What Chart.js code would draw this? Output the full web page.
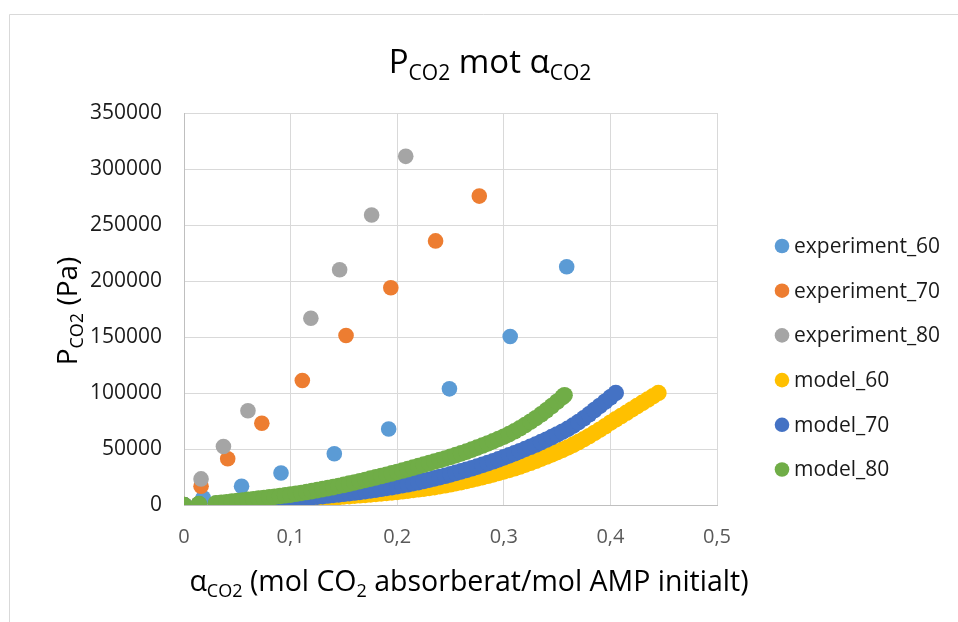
<!DOCTYPE html>
<html><head><meta charset="utf-8">
<script src="https://cdn.jsdelivr.net/npm/chart.js@4.4.1/dist/chart.umd.min.js"></script>
<style>
html,body{margin:0;padding:0;background:#fff;}
#wrap{position:relative;width:958px;height:622px;}
</style></head><body>
<div id="wrap"><canvas id="ch" width="958" height="622"></canvas></div>
<script>
// ── DATA ──
const xTickLabels=['0','0,1','0,2','0,3','0,4','0,5'];
const yTickLabels=['0','50000','100000','150000','200000','250000','300000','350000'];
const seriesNames=['experiment_60','experiment_70','experiment_80','model_60','model_70','model_80'];

const exp60A=[0.018,0.054,0.091,0.141,0.192,0.249,0.306,0.359];
const exp60P=[6500,16700,28600,45700,67900,103700,150500,212700];
const exp70A=[0.016,0.041,0.073,0.111,0.152,0.194,0.236,0.277];
const exp70P=[16700,41300,73000,111200,151400,194000,235800,275800];
const exp80A=[0.016,0.037,0.060,0.086,0.119,0.146,0.176,0.208];
const exp80P=[23300,52200,84200,0,166800,210000,258900,311300];

const mod60A=[0,0.014,0.030,0.035,0.040,0.045,0.050,0.055,0.060,0.065,0.070,0.075,0.080,0.085,0.090,0.095,0.100,
  0.105,0.110,0.115,0.120,0.125,0.130,0.135,0.140,0.145,0.150,0.155,0.160,0.165,0.170,0.175,0.180,0.185,0.190,0.195,0.200,
  0.205,0.210,0.215,0.220,0.225,0.230,0.235,0.240,0.245,0.250,0.255,0.260,0.265,0.270,0.275,0.280,0.285,0.290,0.295,0.300,
  0.305,0.310,0.315,0.320,0.325,0.330,0.335,0.340,0.345,0.350,0.355,0.360,0.365,0.370,0.375,0.380,0.385,0.390,0.395,0.400,
  0.405,0.410,0.415,0.420,0.425,0.430,0.435,0.440,0.445];
const mod60P=[0,500,900,1100,1350,1600,1850,2100,2350,2600,2850,3100,3350,3650,3950,4250,4550,
  4850,5150,5450,5750,6050,6350,6650,6950,7250,7600,7950,8300,8650,9050,9450,9850,10300,10750,11200,11700,
  12250,12800,13400,14000,14650,15300,16000,16750,17600,18500,19450,20450,21500,22600,23750,24900,26100,27350,28650,30000,
  31350,32800,34350,36000,37700,39500,41350,43250,45200,47200,49250,51350,53650,56100,58700,61450,64300,67250,70300,73500,
  76450,79400,82350,85300,88250,91200,94150,97100,100000];

const mod70A=[0,0.014,0.030,0.035,0.040,0.045,0.050,0.055,0.060,0.065,0.070,0.075,0.080,0.085,0.090,0.095,0.100,
  0.105,0.110,0.115,0.120,0.125,0.130,0.135,0.140,0.145,0.150,0.155,0.160,0.165,0.170,0.175,0.180,0.185,0.190,0.195,0.200,
  0.205,0.210,0.215,0.220,0.225,0.230,0.235,0.240,0.245,0.250,0.255,0.260,0.265,0.270,0.275,0.280,0.285,0.290,0.295,0.300,
  0.305,0.310,0.315,0.320,0.325,0.330,0.335,0.340,0.345,0.350,0.355,0.360,0.365,0.370,0.375,0.380,0.385,0.390,0.395,0.400,0.405];
const mod70P=[0,600,1000,1250,1500,1800,2100,2400,2700,3000,3300,3600,3950,4300,4650,5000,5400,
  5800,6200,6600,7050,7500,7950,8450,8950,9450,10000,10550,11150,11750,12400,13050,13750,14450,15200,16000,16800,
  17650,18500,19450,20450,21500,22600,23750,24900,26100,27350,28650,30000,31350,32750,34250,35800,37400,39050,40750,42500,
  44300,46150,48050,50000,52000,54000,56100,58300,60600,63000,65450,68000,70850,74000,77400,81000,84700,88450,92250,96100,100000];

const mod80A=[0,0.014,0.030,0.035,0.040,0.045,0.050,0.055,0.060,0.065,0.070,0.075,0.080,0.085,0.090,0.095,0.100,
  0.105,0.110,0.115,0.120,0.125,0.130,0.135,0.140,0.145,0.150,0.155,0.160,0.165,0.170,0.175,0.180,0.185,0.190,0.195,0.200,
  0.205,0.210,0.215,0.220,0.225,0.230,0.235,0.240,0.245,0.250,0.255,0.260,0.265,0.270,0.275,0.280,0.285,0.290,0.295,0.300,
  0.305,0.310,0.315,0.320,0.325,0.330,0.335,0.340,0.345,0.350,0.355,0.357];
const mod80P=[0,800,1500,2000,2500,3000,3500,4000,4550,5100,5650,6200,6800,7400,8000,8650,9300,
  10000,10750,11550,12380,13240,14130,15050,16000,16980,18000,19050,20130,21240,22380,23530,24690,25860,27050,28260,29500,
  30760,32050,33360,34690,36040,37400,38780,40170,41580,43000,44500,46060,47700,49420,51210,53060,54960,56920,58940,61000,
  63300,65800,68500,71350,74350,77500,80900,84500,88300,92200,96300,98000];

// ── STYLE ──
const FONT="'Open Sans', sans-serif";
const COLORS=['#5B9BD5','#ED7D31','#A5A5A5','#FFC000','#4472C4','#70AD47'];
const gridColor='#D9D9D9';

const titleParts=[['P',0],['CO2',1],[' mot α',0],['CO2',1]];
const yTitleParts=[['P',0],['CO2',1],[' (Pa)',0]];
const xTitleParts=[['α',0],['CO2',1],[' (mol CO',0],['2',1],[' absorberat/mol AMP initialt)',0]];

const pts=(a,p)=>a.map((x,i)=>({x,y:p[i]}));
const sets=[[exp60A,exp60P],[exp70A,exp70P],[exp80A,exp80P],[mod60A,mod60P],[mod70A,mod70P],[mod80A,mod80P]];
const drawOrder=[5,4,3,2,1,0];

// rich text with subscripts
function rich(ctx,parts,size,x,y,rot){
  const sub=Math.round(size*0.64);
  let w=0;
  parts.forEach(([t,s])=>{ ctx.font=(s?sub:size)+'px '+FONT; w+=ctx.measureText(t).width; });
  ctx.save(); ctx.translate(x,y); if(rot) ctx.rotate(rot);
  ctx.textBaseline='alphabetic'; ctx.textAlign='left'; ctx.fillStyle='#000';
  let cx=-w/2;
  parts.forEach(([t,s])=>{
    ctx.font=(s?sub:size)+'px '+FONT;
    ctx.fillText(t,cx,s?size*0.2:0);
    cx+=ctx.measureText(t).width;
  });
  ctx.restore();
}

const deco={
  id:'deco',
  beforeDraw(c){
    const ctx=c.ctx;
    ctx.save(); ctx.fillStyle='#fff'; ctx.fillRect(0,0,c.width,c.height);
    ctx.strokeStyle=gridColor; ctx.lineWidth=1;
    ctx.beginPath(); ctx.moveTo(9.5,c.height); ctx.lineTo(9.5,14.5); ctx.lineTo(c.width,14.5); ctx.stroke();
    ctx.restore();
  },
  afterDraw(c){
    const ctx=c.ctx;
    rich(ctx,titleParts,33,490,73,0);
    rich(ctx,yTitleParts,28,77,311,-Math.PI/2);
    rich(ctx,xTitleParts,28.5,469,591,0);
    // legend
    ctx.save();
    c.data.datasets.forEach((d,i)=>{
      const cy=246+i*44.7;
      ctx.fillStyle=d.backgroundColor;
      ctx.beginPath(); ctx.arc(782,cy,7.3,0,Math.PI*2); ctx.fill();
      ctx.fillStyle='#1a1a1a'; ctx.font='21px '+FONT; ctx.textBaseline='middle'; ctx.textAlign='left';
      ctx.fillText(d.label,794,cy+1);
    });
    ctx.restore();
  }
};

new Chart(document.getElementById('ch'),{
  type:'scatter',
  data:{ datasets:sets.map((s,i)=>({
    label:seriesNames[i], data:pts(s[0],s[1]), order:drawOrder[i],
    backgroundColor:COLORS[i], borderColor:COLORS[i],
    pointRadius:i<3?7.8:8.3, pointBorderWidth:0, pointHoverRadius:i<3?7.8:8.3
  })) },
  options:{
    responsive:false, animation:false, events:[], devicePixelRatio:1,
    layout:{ padding:{ left:0, top:113, right:241, bottom:0 } },
    plugins:{ legend:{display:false}, title:{display:false}, tooltip:{enabled:false} },
    scales:{
      x:{ type:'linear', min:0, max:0.5,
        ticks:{ stepSize:0.1, color:'#595959', font:{family:FONT,size:20}, padding:20,
          callback:(v,i)=>xTickLabels[i] },
        grid:{ color:gridColor, drawTicks:false }, border:{ color:'#BFBFBF' },
        afterFit:s=>{ s.height=117; } },
      y:{ min:0, max:350000,
        ticks:{ stepSize:50000, color:'#1a1a1a', font:{family:FONT,size:21}, padding:22,
          callback:(v,i)=>yTickLabels[i] },
        grid:{ color:gridColor, drawTicks:false }, border:{ color:'#BFBFBF' },
        afterFit:s=>{ s.width=184; } }
    }
  },
  plugins:[deco]
});
</script>
</body></html>
